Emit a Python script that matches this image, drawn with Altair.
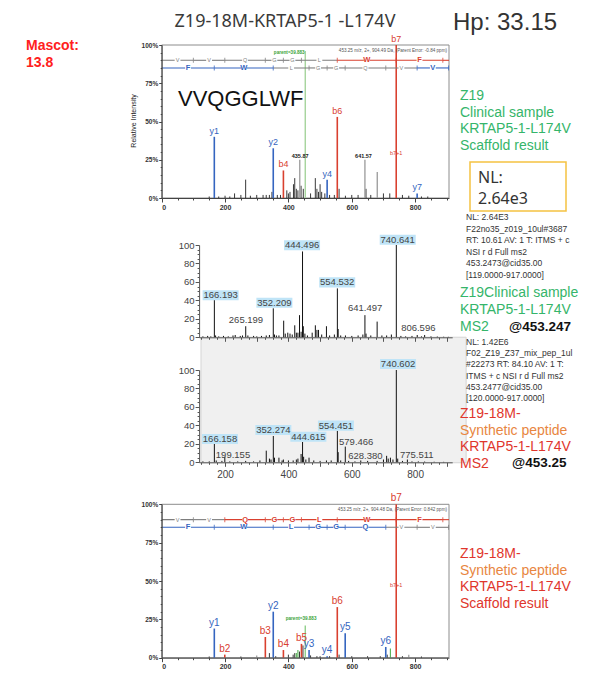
import altair as alt
import pandas as pd

W, H = 579, 661
OFF = 8  # page margin

# ------------------------------------------------------------------ texts
TITLE = "Z19-18M-KRTAP5-1 -L174V"
HP_TEXT = "Hp: 33.15"
MASCOT_TEXT = "Mascot:\n13.8"
PEPTIDE = "VVQGGLWF"
TOP_INFO = "453.25 m/z, 2+, 904.49 Da, (Parent Error: -0.84 ppm)"
BOT_INFO = "453.25 m/z, 2+, 904.48 Da, (Parent Error: 0.842 ppm)"
PARENT_LABEL = "parent=39.883"
CLIN_SCAFFOLD = "Z19\nClinical sample\nKRTAP5-1-L174V\nScaffold result"
NL_BOX = "NL:\n2.64e3"
CLIN_HEADER = ("NL: 2.64E3\nF22no35_z019_10ul#3687\nRT: 10.61  AV: 1 T: ITMS + c\n"
               "NSI r d Full ms2\n453.2473@cid35.00\n[119.0000-917.0000]")
CLIN_MS2 = "Z19Clinical sample\nKRTAP5-1-L174V\nMS2"
CLIN_PREC = "@453.247"
SYN_HEADER = ("NL: 1.42E6\nF02_Z19_Z37_mix_pep_1ul\n#22273  RT: 84.10  AV: 1 T:\n"
              "ITMS + c NSI r d Full ms2\n453.2477@cid35.00\n[120.0000-917.0000]")
SYN_MS2_LINES = ["Z19-18M-", "Synthetic peptide", "KRTAP5-1-L174V", "MS2"]
SYN_PREC = "@453.25"
SYN_SCAFFOLD_LINES = ["Z19-18M-", "Synthetic peptide", "KRTAP5-1-L174V", "Scaffold result"]

# ------------------------------------------------------------------ ladders
B_IONS = [100.08, 199.14, 327.20, 384.22, 441.24, 554.33, 740.41, 887.48]
Y_IONS = [166.09, 352.17, 465.25, 522.27, 579.29, 707.35, 806.42, 905.49]
B_LETTERS = list("VVQGGLWF")
Y_LETTERS = list("FWLGGQVV")
MZ_MAX = 907
# observed (1) / not observed (0) per ladder segment (8 residues + tail)
TOP_B_OBS = [0, 0, 0, 0, 0, 0, 1, 1, 1]
TOP_Y_OBS = [1, 1, 0, 0, 0, 0, 0, 1, 1]
BOT_B_OBS = [0, 0, 1, 1, 1, 1, 1, 1, 1]
BOT_Y_OBS = [1, 1, 1, 1, 1, 1, 0, 0, 0]

# ------------------------------------------------------------------ Scaffold clinical (top)
TOP_ION_LAB = ["y1", "y2", "b4", "y4", "b6", "b7", "y7"]
TOP_ION_MZ = [166.09, 352.17, 384.22, 522.27, 554.33, 740.41, 806.42]
TOP_ION_H = [40, 32.5, 18, 12, 53, 100, 3]
TOP_GREY = [(435.87, 25), (641.57, 25), (680.5, 17)]
TOP_GREY_LAB = [("435.87", 437, 25), ("641.57", 637, 25)]
TOP_PARENT = (453.25, 96)
TOP_B7P1 = (740.41, 26.5)
TOP_NOISE = [(150, 1), (180, 1), (200, 1.5), (215, 1), (230, 3), (250, 2), (265, 12),
             (280, 1.5), (300, 2), (320, 2), (330, 2), (340, 2), (348, 4), (365, 2),
             (375, 2), (395, 5), (400, 3), (405, 4), (416, 9), (420, 13), (425, 6),
             (430, 5), (440, 8), (447, 6), (470, 3), (485, 13), (490, 6), (495, 4),
             (500, 9), (505, 4), (515, 3), (530, 2), (545, 2), (560, 6), (580, 1.5),
             (600, 2), (620, 2), (645, 6), (660, 2), (700, 3), (720, 3), (760, 2),
             (780, 1.5), (820, 1), (840, 1)]

# ------------------------------------------------------------------ Scaffold synthetic (bottom)
BOT_ION_LAB = ["y1", "b2", "b3", "y2", "b4", "b5", "y3", "y4", "b6", "y5", "y6", "b7"]
BOT_ION_MZ = [166.09, 199.14, 327.20, 352.17, 384.22, 441.24, 465.25, 522.27,
              554.33, 579.29, 707.35, 740.41]
BOT_ION_H = [19, 2, 13.5, 30, 5, 9, 5, 1, 33, 16, 7, 100]
BOT_PARENT = (453.25, 21)
BOT_PARENT_LAB = (440, 23.5)
BOT_B7P1 = (740.41, 45)
BOT_GREEN = [(425, 3), (430, 5), (722, 6)]
BOT_GREY = [(300, 1.5), (780, 2)]
BOT_NOISE = [(150, 0.8), (250, 0.8), (340, 3), (360, 1), (400, 2), (415, 2), (420, 3),
             (435, 4), (446, 8), (470, 1.5), (490, 1), (500, 1), (530, 1), (560, 2),
             (600, 1), (650, 1), (690, 1), (712, 2), (760, 1), (820, 0.8)]

# ------------------------------------------------------------------ MS2 spectra (middle)
CLIN_MS2_PEAKS = [(130, 1), (145, 1.5), (155, 1), (166.2, 40.4), (170, 2), (180, 1),
                  (195, 1.5), (210, 1), (225, 2), (232, 2.5), (248, 1.5), (255, 2),
                  (265.2, 12), (272, 2), (290, 1.5), (300, 1), (315, 1.5), (330, 2),
                  (340, 2.5), (352.2, 31.4), (356, 3), (362, 2), (370, 2), (385, 18),
                  (390, 4), (398, 5), (405, 4), (412, 3), (420, 13), (425, 5), (430, 5),
                  (435, 24), (440, 6), (444.5, 93), (447, 12), (452, 4), (460, 2),
                  (475, 5), (485, 13), (490, 8), (495, 8), (505, 3), (520, 12), (530, 2),
                  (545, 3), (554.5, 53), (557, 9), (565, 2), (580, 2), (600, 1.5),
                  (620, 2), (635, 3), (641.5, 24), (645, 4), (660, 2), (680, 17),
                  (695, 2), (710, 2), (725, 3), (740.6, 100), (755, 1.5), (770, 1),
                  (790, 1.5), (806.6, 2.5), (820, 1), (830, 2.5), (850, 1), (870, 0.8),
                  (890, 0.6), (905, 0.5)]
CLIN_MS2_LABELS = [("166.193", 186, 39, True), ("265.199", 266, 12.2, False),
                   ("352.209", 355.7, 31, True), ("444.496", 443, 93.2, True),
                   ("554.532", 554, 53, True), ("641.497", 642, 24.9, False),
                   ("740.641", 745, 99.2, True), ("806.596", 810, 3.9, False)]
SYN_MS2_PEAKS = [(130, 1), (150, 1), (166.2, 20), (172, 2), (190, 1.5), (199.2, 6),
                 (215, 1), (240, 1), (265, 1.5), (290, 1), (310, 2), (330, 12.6),
                 (340, 4), (345, 3), (352.3, 28.5), (356, 5), (370, 5), (380, 2),
                 (384, 3), (400, 2), (415, 2), (425, 3), (430, 4), (440, 9),
                 (444.6, 22), (448, 6), (455, 3), (465, 5), (480, 2), (500, 1.5),
                 (520, 2), (535, 2), (554.5, 34), (557, 11), (565, 2), (579.5, 17),
                 (590, 1.5), (610, 1), (628.4, 2), (650, 1.5), (680, 1.5), (700, 3),
                 (710, 7), (715, 4), (722, 5), (730, 3), (740.6, 100), (745, 4),
                 (760, 1.5), (775.5, 3), (790, 1), (810, 1), (830, 0.8), (860, 0.6),
                 (890, 0.5)]
SYN_MS2_LABELS = [("166.158", 184, 18.7, True), ("199.155", 225, 1.4, False),
                  ("352.274", 352.5, 28.5, True), ("444.615", 463, 21.2, True),
                  ("554.451", 550, 33.2, True), ("579.466", 614, 15.8, False),
                  ("628.380", 643, 0, False), ("740.602", 746, 100, True),
                  ("775.511", 805, 1.4, False)]
MS2_X_DOMAIN = [118, 917]
SYN_PANEL_X = [124, 961]
SYN_PANEL_Y = [-0.5, 135.5]

# ------------------------------------------------------------------ styles
RED = "#d9402f"
BLUE = "#3565c0"
LADDER_GREY = "#7d7d7d"
TXT_GREEN = "#35b56a"
TXT_RED = "#e0362c"
TXT_ORANGE = "#e8863f"
ARIAL = "Liberation Sans"
SANS = "Noto Sans"

# pixel placement of the panels (chart coordinates)
SX_RANGE = [161.7 - OFF, 449 - OFF]
TOP_Y_RANGE = [198 - OFF, 45 - OFF]
BOT_Y_RANGE = [657.7 - OFF, 504.3 - OFF]
MX_RANGE = [199.1 - OFF, 452.2 - OFF]
MU_Y_RANGE = [337.3 - OFF, 245 - OFF]
ML_Y_RANGE = [462.3 - OFF, 370 - OFF]

DUMMY = pd.DataFrame({"k": [0]})


def sc(domain, rng):
    return alt.Scale(domain=domain, range=rng, nice=False, zero=False)


def cond(test, a, b):
    return {"condition": {"test": test, "value": a}, "value": b}


def txt(text, x, y, size, color, font=SANS, weight="normal", align="left",
        baseline="alphabetic", angle=None, lh=None):
    kw = dict(fontSize=size, color=color, font=font, fontWeight=weight,
              align=align, baseline=baseline)
    if angle is not None:
        kw["angle"] = angle
    if lh is not None:
        kw["lineBreak"] = "\n"
        kw["lineHeight"] = lh
    return alt.Chart(DUMMY).mark_text(**kw).encode(
        x=alt.value(x - OFF), y=alt.value(y - OFF), text=alt.value(text))


def pairs_df(pairs, color):
    return pd.DataFrame({"mz": [p[0] for p in pairs], "h": [p[1] for p in pairs],
                         "base": 0, "c": color})


def ladder(bounds, letters, obs, level, on_color):
    edges = [0] + bounds + ([MZ_MAX] if bounds[-1] < MZ_MAX else [])
    seg = pd.DataFrame({"x0": edges[:-1], "x1": edges[1:], "lev": level,
                        "c": [on_color if o else LADDER_GREY for o in obs]})
    lets = pd.DataFrame({"mz": [(edges[i] + edges[i + 1]) / 2 for i in range(len(letters))],
                         "lev": level, "t": letters,
                         "on": [bool(o) for o in obs[:len(letters)]]})
    lets["c"] = [on_color if o else LADDER_GREY for o in lets["on"]]
    ticks = pd.DataFrame({"mz": bounds, "lev": level,
                          "c": [on_color if (obs[i] or obs[i + 1]) else LADDER_GREY
                                for i in range(len(bounds))]})
    return seg, lets, ticks


def scaffold_panel(yr, ions, extra_rules, b_obs, y_obs, info, info_y, texts, ion_font):
    xs = sc([0, MZ_MAX], SX_RANGE)
    ys = sc([0, 100], yr)
    frame = pd.DataFrame({"x0": [0], "x1": [MZ_MAX], "y0": [0], "y1": [100]})
    x_axis = alt.Axis(orient="bottom", offset=yr[0] - H, values=list(range(0, 901, 50)),
                      labelExpr="datum.value % 200 === 0 ? datum.label : ''",
                      tickSize=cond("datum.value % 200 === 0", 4, 2),
                      title=None, grid=False, labelFontSize=7, labelFont=ARIAL,
                      labelFontWeight="bold", labelColor="#333", domainColor="#444",
                      tickColor="#444", labelPadding=1, labelOverlap=False, zindex=1)
    y_axis = alt.Axis(orient="left", offset=-SX_RANGE[0], values=list(range(0, 101, 5)),
                      labelExpr="datum.value % 25 === 0 ? datum.value + '%' : ''",
                      tickSize=cond("datum.value % 25 === 0", 3, 1.5),
                      title=None, grid=False, labelFontSize=6.5, labelFont=ARIAL,
                      labelFontWeight="bold", labelColor="#333", domainColor="#444",
                      tickColor="#444", labelPadding=1, labelOverlap=False, zindex=1)

    def X(f):
        return alt.X(f, scale=xs, axis=x_axis)

    def Y(f):
        return alt.Y(f, scale=ys, axis=y_axis)

    layers = [alt.Chart(frame).mark_rect(fillOpacity=0, stroke="#8c8c8c", strokeWidth=1).encode(
        x=X("x0:Q"), x2="x1:Q", y=Y("y0:Q"), y2="y1:Q")]
    for df, w in extra_rules:
        layers.append(alt.Chart(df).mark_rule(strokeWidth=w).encode(
            x=X("mz:Q"), y=Y("h:Q"), y2="base:Q", color=alt.Color("c:N", scale=None)))
    ion_df = pd.DataFrame({"mz": ions[1], "h": ions[2], "base": 0, "t": ions[0],
                           "c": [RED if t.startswith("b") else BLUE for t in ions[0]]})
    layers.append(alt.Chart(ion_df).mark_rule(strokeWidth=1.6).encode(
        x=X("mz:Q"), y=Y("h:Q"), y2="base:Q", color=alt.Color("c:N", scale=None)))
    layers.append(alt.Chart(ion_df).mark_text(fontSize=ion_font, font=ARIAL, baseline="bottom",
                                              dy=-1).encode(
        x=X("mz:Q"), y=Y("h:Q"), text="t:N", color=alt.Color("c:N", scale=None)))
    # sequence ladders
    for bounds, letters, obs, lev, col in [(B_IONS, B_LETTERS, b_obs, 90, RED),
                                           (Y_IONS, Y_LETTERS, y_obs, 85, BLUE)]:
        seg, lets, ticks = ladder(bounds, letters, obs, lev, col)
        layers.append(alt.Chart(seg).mark_rule(strokeWidth=1.1).encode(
            x=X("x0:Q"), x2="x1:Q", y=Y("lev:Q"), color=alt.Color("c:N", scale=None)))
        layers.append(alt.Chart(ticks).mark_tick(orient="vertical", size=5, thickness=1.1).encode(
            x=X("mz:Q"), y=Y("lev:Q"), color=alt.Color("c:N", scale=None)))
        layers.append(alt.Chart(lets).mark_square(color="white", opacity=1, filled=True,
                                                   size=34).encode(x=X("mz:Q"), y=Y("lev:Q")))
        off_l = lets[~lets["on"]]
        on_l = lets[lets["on"]]
        if len(off_l):
            layers.append(alt.Chart(off_l).mark_text(fontSize=5.5, font=ARIAL,
                                                     baseline="middle").encode(
                x=X("mz:Q"), y=Y("lev:Q"), text="t:N", color=alt.Color("c:N", scale=None)))
        if len(on_l):
            layers.append(alt.Chart(on_l).mark_text(fontSize=7.5, font=ARIAL, fontWeight="bold",
                                                    baseline="middle").encode(
                x=X("mz:Q"), y=Y("lev:Q"), text="t:N", color=alt.Color("c:N", scale=None)))
    for df, size, weight, align in texts:
        layers.append(alt.Chart(df).mark_text(fontSize=size, font=ARIAL, fontWeight=weight,
                                              align=align, baseline="bottom", dy=-1).encode(
            x=X("mz:Q"), y=Y("h:Q"), text="t:N", color=alt.Color("c:N", scale=None)))
    layers.append(txt(info, 447, info_y, 4.6, "#555", font=ARIAL, align="right",
                      baseline="middle"))
    return alt.layer(*layers)


# ---------------- top Scaffold panel
top_rules = [(pairs_df(TOP_NOISE, "#222"), 0.9),
             (pairs_df(TOP_GREY, "#9a9a9a"), 1.3),
             (pairs_df([TOP_PARENT], "#a6d49c"), 1.4)]
top_texts = [
    (pd.DataFrame({"t": [l[0] for l in TOP_GREY_LAB], "mz": [l[1] for l in TOP_GREY_LAB],
                   "h": [l[2] for l in TOP_GREY_LAB], "c": "#222"}), 5.5, "bold", "center"),
    (pd.DataFrame({"t": ["b7+1"], "mz": [TOP_B7P1[0]], "h": [TOP_B7P1[1]], "c": RED}),
     5.5, "normal", "center"),
    (pd.DataFrame({"t": [PARENT_LABEL], "mz": [TOP_PARENT[0] - 2], "h": [TOP_PARENT[1] - 3],
                   "c": "#3aa43a"}), 4.6, "bold", "right"),
]
top_panel = scaffold_panel(TOP_Y_RANGE, (TOP_ION_LAB, TOP_ION_MZ, TOP_ION_H), top_rules,
                           TOP_B_OBS, TOP_Y_OBS, TOP_INFO, 51, top_texts, 9)

# ---------------- bottom Scaffold panel
bot_rules = [(pairs_df(BOT_NOISE, "#222"), 0.9),
             (pairs_df(BOT_GREY, "#9a9a9a"), 1.2),
             (pairs_df(BOT_GREEN, "#55b055"), 1.1),
             (pairs_df([BOT_PARENT], "#8fcf8a"), 1.4)]
bot_texts = [
    (pd.DataFrame({"t": ["b7+1"], "mz": [BOT_B7P1[0]], "h": [BOT_B7P1[1]], "c": RED}),
     5.5, "normal", "center"),
    (pd.DataFrame({"t": [PARENT_LABEL], "mz": [BOT_PARENT_LAB[0]], "h": [BOT_PARENT_LAB[1]],
                   "c": "#3aa43a"}), 4.6, "bold", "center"),
]
bot_panel = scaffold_panel(BOT_Y_RANGE, (BOT_ION_LAB, BOT_ION_MZ, BOT_ION_H), bot_rules,
                           BOT_B_OBS, BOT_Y_OBS, BOT_INFO, 510, bot_texts, 10)


# ---------------- middle MS2 panels
def ms2_panel(peaks, labels, yr, show_x_labels):
    xs = sc(MS2_X_DOMAIN, MX_RANGE)
    ys = sc([0, 100], yr)
    x_axis = alt.Axis(orient="bottom", offset=yr[0] - H, values=list(range(125, 901, 25)),
                      labelExpr="datum.value % 200 === 0 ? datum.label : ''",
                      labels=show_x_labels,
                      tickSize=cond("datum.value % 100 === 0", 4, 2),
                      title=None, grid=False, labelFontSize=10, labelFont=ARIAL,
                      labelColor="#444", domainColor="#555", tickColor="#555",
                      labelPadding=3, labelOverlap=False, zindex=1)
    y_axis = alt.Axis(orient="left", offset=-MX_RANGE[0], values=list(range(0, 101, 5)),
                      labelExpr="datum.value % 20 === 0 ? datum.label : ''",
                      tickSize=cond("datum.value % 20 === 0", 4, 2),
                      title=None, grid=False, labelFontSize=9.5, labelFont=ARIAL,
                      labelColor="#444", domainColor="#555", tickColor="#555",
                      labelPadding=1, labelOverlap=False, zindex=1)
    pk = pairs_df(peaks, "#111")
    lab = pd.DataFrame({"t": [l[0] for l in labels], "mz": [l[1] for l in labels],
                        "h": [l[2] for l in labels], "box": [l[3] for l in labels]})
    boxed = lab[lab["box"]]
    layers = [
        alt.Chart(pk).mark_rule(strokeWidth=1, color="#111").encode(
            x=alt.X("mz:Q", scale=xs, axis=x_axis),
            y=alt.Y("h:Q", scale=ys, axis=y_axis), y2="base:Q"),
        alt.Chart(boxed).mark_point(shape="M-1,-0.28L1,-0.28L1,0.28L-1,0.28Z", size=1296,
                                    filled=True, color="#bfe4f7", opacity=1,
                                    yOffset=-6).encode(
            x=alt.X("mz:Q", scale=xs, axis=x_axis), y=alt.Y("h:Q", scale=ys, axis=y_axis)),
        alt.Chart(lab).mark_text(fontSize=9.5, font=ARIAL, color="#444", baseline="middle",
                                 yOffset=-6).encode(
            x=alt.X("mz:Q", scale=xs, axis=x_axis), y=alt.Y("h:Q", scale=ys, axis=y_axis),
            text="t:N"),
    ]
    return alt.layer(*layers)


syn_bg = alt.Chart(pd.DataFrame({"x0": [SYN_PANEL_X[0]], "x1": [SYN_PANEL_X[1]],
                                 "y0": [SYN_PANEL_Y[0]], "y1": [SYN_PANEL_Y[1]]})).mark_rect(
    color="#f0f0f0", stroke="#d5d5d5", strokeWidth=1).encode(
    x=alt.X("x0:Q", scale=sc(MS2_X_DOMAIN, MX_RANGE), axis=None), x2="x1:Q",
    y=alt.Y("y0:Q", scale=sc([0, 100], ML_Y_RANGE), axis=None), y2="y1:Q")

clin_ms2 = ms2_panel(CLIN_MS2_PEAKS, CLIN_MS2_LABELS, MU_Y_RANGE, False)
syn_ms2 = ms2_panel(SYN_MS2_PEAKS, SYN_MS2_LABELS, ML_Y_RANGE, True)

# ---------------- free texts (reference-pixel coordinates)
texts = [
    txt(TITLE, 285, 27, 18, "#3a3a3a", align="center"),
    txt(HP_TEXT, 453, 30, 24, "#333", font=ARIAL),
    txt(MASCOT_TEXT, 26, 50, 14, "#ff2020", font=ARIAL, weight="bold", lh=17),
    txt(PEPTIDE, 178, 106, 22, "#111", font=ARIAL),
    txt("Relative Intensity", 134, 121, 7, "#222", font=ARIAL, align="center",
        baseline="middle", angle=270),
    txt(CLIN_SCAFFOLD, 460, 100, 14, TXT_GREEN, font=ARIAL, lh=16.7),
    alt.Chart(DUMMY).mark_rect(fillOpacity=0, stroke="#f5c242", strokeWidth=1.5).encode(
        x=alt.value(470 - OFF), x2=alt.value(566 - OFF),
        y=alt.value(162 - OFF), y2=alt.value(211 - OFF)),
    txt(NL_BOX, 478, 183, 16, "#333", lh=21),
    txt(CLIN_HEADER, 466, 220, 8.5, "#333", font=ARIAL, lh=11.6),
    txt(CLIN_MS2, 460, 297, 14, TXT_GREEN, font=ARIAL, lh=17),
    txt(CLIN_PREC, 509, 331, 13.5, "#111", font=ARIAL, weight="bold"),
    txt(SYN_HEADER, 466, 345, 8.5, "#333", font=ARIAL, lh=11.2),
    txt(SYN_PREC, 512, 467, 13.5, "#111", font=ARIAL, weight="bold"),
]
for i, (line, col) in enumerate(zip(SYN_MS2_LINES, [TXT_RED, TXT_ORANGE, TXT_RED, TXT_RED])):
    texts.append(txt(line, 460, 418 + 16.5 * i, 14, col, font=ARIAL))
for i, (line, col) in enumerate(zip(SYN_SCAFFOLD_LINES, [TXT_RED, TXT_ORANGE, TXT_RED, TXT_RED])):
    texts.append(txt(line, 460, 558 + 16.7 * i, 14, col, font=ARIAL))

chart = alt.layer(top_panel, syn_bg, clin_ms2, syn_ms2, bot_panel, *texts).resolve_scale(
    x="independent", y="independent").properties(
    width=W, height=H, padding=0, autosize=alt.AutoSizeParams(type="none"),
    background="white").configure_view(stroke=None)

chart.save("out.html", embed_options={"renderer": "svg", "actions": False})
